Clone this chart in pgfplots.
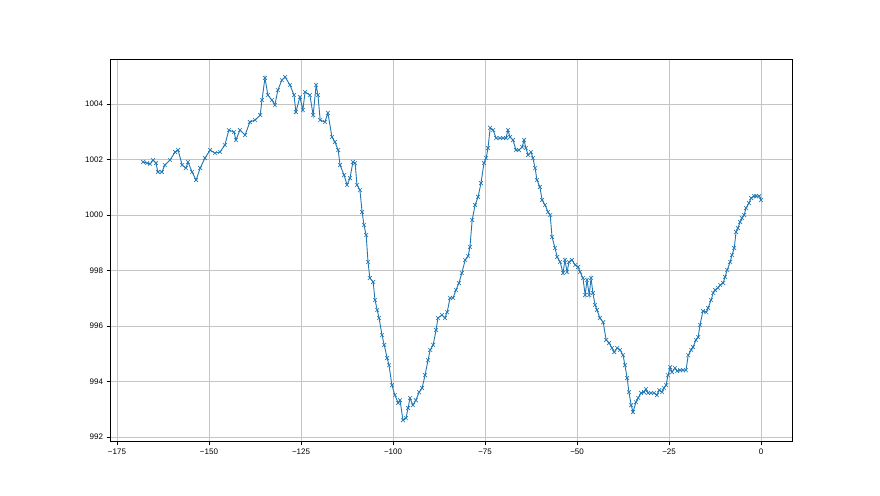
\documentclass[border=0pt]{standalone}
\usepackage{fontspec}
\setmainfont{Liberation Sans}
\usepackage{pgfplots}
\pgfplotsset{compat=1.18}
\definecolor{mplblue}{HTML}{1F77B4}
\definecolor{gridgray}{HTML}{C4C4C4}

\begin{document}
\begin{tikzpicture}[x=1pt,y=1pt]
\fill[white] (0,0) rectangle (880,495);
\begin{axis}[
    at={(110pt,54pt)}, anchor=south west,
    width=682pt, height=382pt, scale only axis,
    xmin=-176.9, xmax=8.4,
    ymin=991.86, ymax=1005.62,
    xtick={-175,-150,-125,-100,-75,-50,-25,0},
    xticklabels={−175,−150,−125,−100,−75,−50,−25,0},
    ytick={992,994,996,998,1000,1002,1004},
    yticklabels={992,994,996,998,1000,1002,1004},
    xtick pos=bottom, ytick pos=left,
    tick align=outside,
    major tick length=3.5pt,
    tick style={black, line width=0.6pt},
    axis line style={black, line width=0.6pt},
    grid=major,
    grid style={gridgray, line width=0.7pt},
    ticklabel style={font=\fontsize{8}{9.5}\selectfont},
    xticklabel style={yshift=-1pt},
]
\addplot[mplblue, line width=0.9pt, mark=x, mark size=2.7pt, mark options={line width=0.6pt}] coordinates {
(-167.9,1001.91) (-166.8,1001.87) (-166.0,1001.84) (-165.2,1001.98) (-164.4,1001.87)
(-163.9,1001.55) (-162.8,1001.55) (-162.0,1001.80) (-160.6,1001.98) (-159.2,1002.27)
(-158.4,1002.34) (-157.3,1001.80) (-156.3,1001.69) (-155.7,1001.91) (-154.6,1001.55)
(-153.5,1001.26) (-152.4,1001.69) (-151.1,1002.05) (-149.7,1002.34) (-148.4,1002.23)
(-147.0,1002.27) (-145.7,1002.52) (-144.6,1003.06) (-143.2,1002.99) (-142.7,1002.70)
(-141.6,1003.06) (-140.2,1002.88) (-138.9,1003.35) (-137.5,1003.42) (-136.1,1003.60)
(-135.6,1004.14) (-134.8,1004.94) (-134.0,1004.32) (-132.9,1004.14) (-132.1,1003.96)
(-131.3,1004.50) (-130.2,1004.86) (-129.3,1004.97) (-128.0,1004.68) (-126.9,1004.32)
(-126.4,1003.71) (-125.3,1004.25) (-124.5,1003.78) (-123.9,1004.43) (-122.6,1004.32)
(-121.7,1003.60) (-120.9,1004.68) (-120.4,1004.32) (-119.8,1003.42) (-118.5,1003.35)
(-117.7,1003.68) (-116.6,1002.81) (-115.8,1002.63) (-114.9,1002.34) (-114.4,1001.80)
(-113.3,1001.44) (-112.5,1001.08) (-111.7,1001.33) (-110.9,1001.91) (-110.3,1001.87)
(-109.8,1001.08) (-109.0,1000.90) (-108.4,1000.11) (-107.9,999.64) (-107.3,999.28)
(-106.8,998.31) (-106.3,997.73) (-105.4,997.59) (-104.9,996.94) (-104.3,996.58)
(-103.8,996.29) (-103.0,995.68) (-102.4,995.32) (-101.6,994.85) (-101.1,994.59)
(-100.3,993.87) (-99.5,993.51) (-98.6,993.23) (-98.1,993.33) (-97.3,992.61)
(-96.5,992.68) (-95.9,993.05) (-95.4,993.41) (-94.6,993.15) (-93.8,993.33)
(-92.9,993.62) (-92.1,993.77) (-91.3,994.23) (-90.5,994.77) (-89.9,995.14)
(-89.1,995.32) (-88.3,995.86) (-87.8,996.29) (-86.7,996.40) (-85.9,996.29)
(-85.3,996.50) (-84.5,997.01) (-83.7,997.01) (-82.9,997.30) (-82.1,997.55)
(-81.3,997.91) (-80.4,998.38) (-79.6,998.52) (-79.1,998.85) (-78.5,999.82)
(-77.7,1000.36) (-76.9,1000.65) (-76.1,1001.15) (-75.3,1001.87) (-74.7,1002.05)
(-74.2,1002.41) (-73.6,1003.14) (-72.8,1003.06) (-72.0,1002.77) (-70.9,1002.77)
(-70.1,1002.77) (-69.3,1002.77) (-68.8,1003.06) (-68.2,1002.81) (-67.4,1002.70)
(-66.6,1002.34) (-65.8,1002.34) (-64.9,1002.45) (-64.4,1002.70) (-63.9,1002.41)
(-63.3,1002.16) (-62.5,1002.27) (-62.0,1002.05) (-61.4,1001.69) (-60.9,1001.26)
(-60.1,1001.01) (-59.5,1000.54) (-58.7,1000.36) (-57.9,1000.11) (-57.3,1000.00)
(-56.8,999.21) (-56.0,998.81) (-55.4,998.49) (-54.6,998.31) (-53.8,997.91)
(-53.3,998.38) (-52.7,997.95) (-52.2,998.31) (-51.4,998.38) (-50.5,998.20)
(-49.7,998.13) (-49.2,997.95) (-48.4,997.73) (-47.8,997.12) (-47.3,997.66)
(-46.7,997.12) (-46.2,997.73) (-45.7,997.19) (-45.1,996.76) (-44.6,996.58)
(-43.8,996.29) (-42.9,996.14) (-42.1,995.50) (-41.3,995.39) (-40.5,995.21)
(-39.9,995.06) (-39.1,995.21) (-38.3,995.14) (-37.5,994.95) (-37.0,994.59)
(-36.4,994.13) (-35.9,993.62) (-35.3,993.15) (-34.8,992.90) (-34.0,993.26)
(-33.4,993.41) (-32.6,993.59) (-31.8,993.62) (-31.3,993.73) (-30.7,993.59)
(-29.9,993.59) (-29.1,993.59) (-28.3,993.51) (-27.7,993.69) (-26.9,993.62)
(-26.4,993.77) (-25.8,993.87) (-25.3,994.23) (-24.7,994.52) (-24.2,994.34)
(-23.4,994.49) (-22.8,994.38) (-22.0,994.41) (-21.2,994.41) (-20.4,994.41)
(-19.8,994.95) (-19.0,995.14) (-18.5,995.24) (-17.7,995.50) (-17.1,995.60)
(-16.6,996.04) (-15.8,996.54) (-14.9,996.50) (-14.4,996.65) (-13.6,996.94)
(-13.0,997.19) (-12.5,997.30) (-11.7,997.37) (-11.1,997.48) (-10.3,997.55)
(-9.8,997.77) (-9.2,998.02) (-8.4,998.31) (-7.9,998.56) (-7.3,998.81)
(-6.8,999.39) (-6.3,999.53) (-5.7,999.75) (-5.2,999.89) (-4.6,1000.00)
(-4.1,1000.25) (-3.3,1000.43) (-2.7,1000.61) (-1.9,1000.68) (-1.4,1000.68)
(-0.5,1000.68) (0.0,1000.54)
};
\end{axis}
\end{tikzpicture}
\end{document}
